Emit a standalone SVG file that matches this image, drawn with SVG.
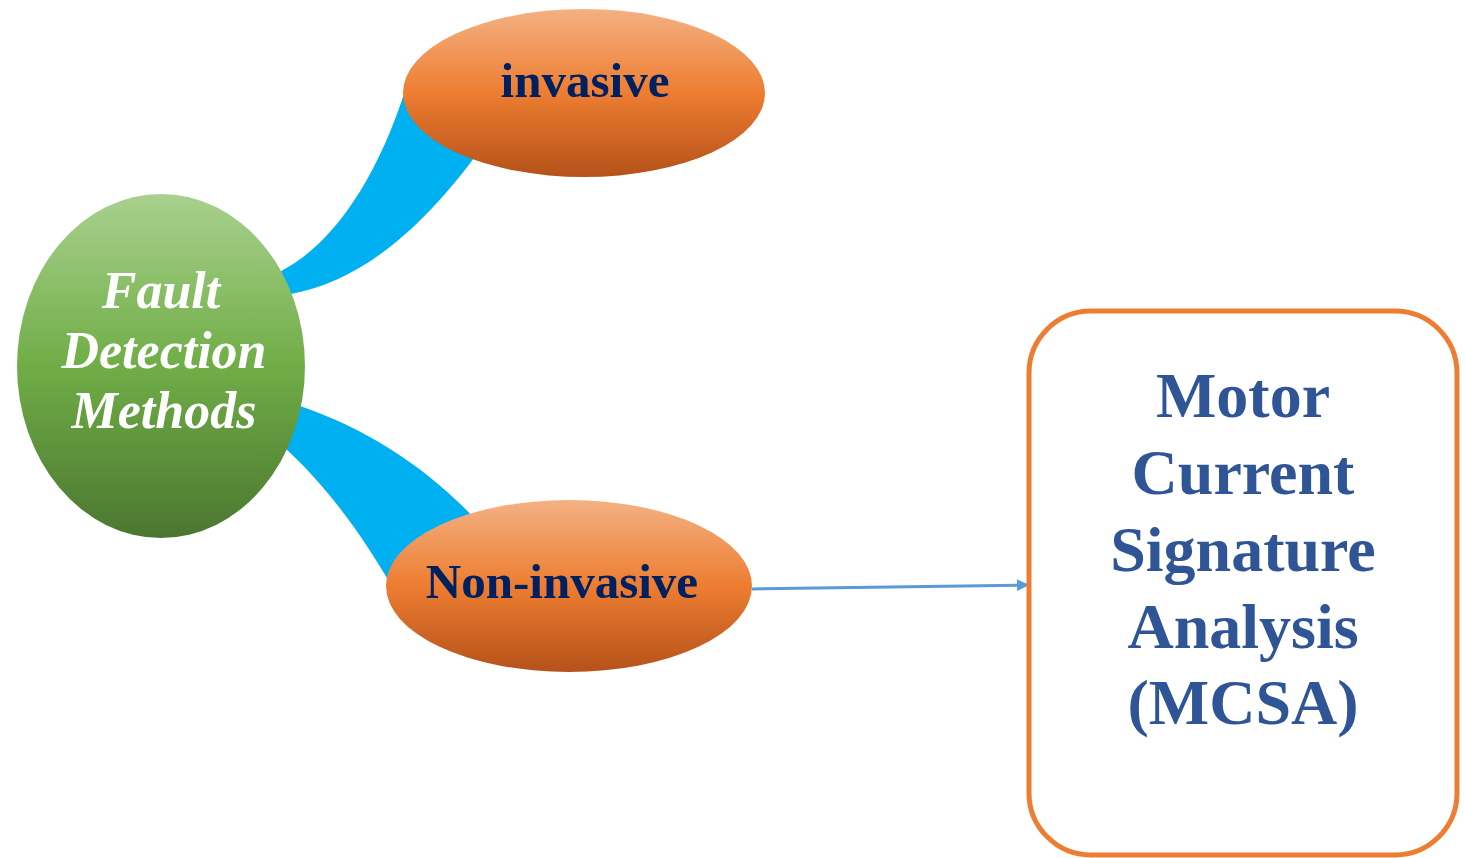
<svg xmlns="http://www.w3.org/2000/svg" width="1465" height="858" viewBox="0 0 1465 858">
<defs>
<linearGradient id="gGreen" x1="0" y1="0" x2="0" y2="1">
<stop offset="0" stop-color="#A9D18E"/>
<stop offset="0.5" stop-color="#70AD47"/>
<stop offset="1" stop-color="#4B7730"/>
</linearGradient>
<linearGradient id="gOrange" x1="0" y1="0" x2="0" y2="1">
<stop offset="0" stop-color="#F4B183"/>
<stop offset="0.5" stop-color="#ED7D31"/>
<stop offset="1" stop-color="#B5521A"/>
</linearGradient>
<marker id="arr" markerWidth="12" markerHeight="12" refX="10" refY="6" orient="auto" markerUnits="userSpaceOnUse">
<path d="M0,0 L12,6 L0,12 Z" fill="#5B9BD5"/>
</marker>
<style>
.band{fill:#00B0F0}
.lbl{font-family:"Liberation Serif","Times New Roman",serif;font-weight:bold;text-anchor:middle}
.fault{fill:#ffffff;font-style:italic;font-size:52px}
.oval{fill:#002060;font-size:49px}
.box{fill:#2F5597;font-size:64px}
</style>
</defs>
<rect width="1465" height="858" fill="#ffffff"/>
<g id="connectors">
<path class="band" d="M270,280 L283,270 C330,245 375,185 406,88 L480,150 C425,225 365,280 291,294 L275,298 Z"/>
<path class="band" d="M285,400 L300,406 C370,430 430,470 478,522 L400,600 C360,530 325,485 286,449 L280,440 Z"/>
<line x1="752" y1="589" x2="1027" y2="585" stroke="#5B9BD5" stroke-width="3" marker-end="url(#arr)"/>
</g>
<g id="node-fault">
<ellipse cx="161" cy="366" rx="144" ry="172" fill="url(#gGreen)"/>
<text class="lbl fault" x="161" y="308">Fault</text>
<text class="lbl fault" x="164" y="368">Detection</text>
<text class="lbl fault" x="164" y="428">Methods</text>
</g>
<g id="node-invasive">
<ellipse cx="584" cy="93" rx="181" ry="84" fill="url(#gOrange)"/>
<text class="lbl oval" x="585" y="97">invasive</text>
</g>
<g id="node-noninvasive">
<ellipse cx="569" cy="586" rx="183" ry="86" fill="url(#gOrange)"/>
<text class="lbl oval" x="562" y="598">Non-invasive</text>
</g>
<g id="node-mcsa">
<rect x="1029" y="311" width="428" height="544" rx="62" ry="62" fill="#ffffff" stroke="#ED7D31" stroke-width="5"/>
<text class="lbl box" x="1243" y="417">Motor</text>
<text class="lbl box" x="1243" y="494">Current</text>
<text class="lbl box" x="1243" y="571">Signature</text>
<text class="lbl box" x="1243" y="648">Analysis</text>
<text class="lbl box" x="1243" y="724">(MCSA)</text>
</g>
</svg>
